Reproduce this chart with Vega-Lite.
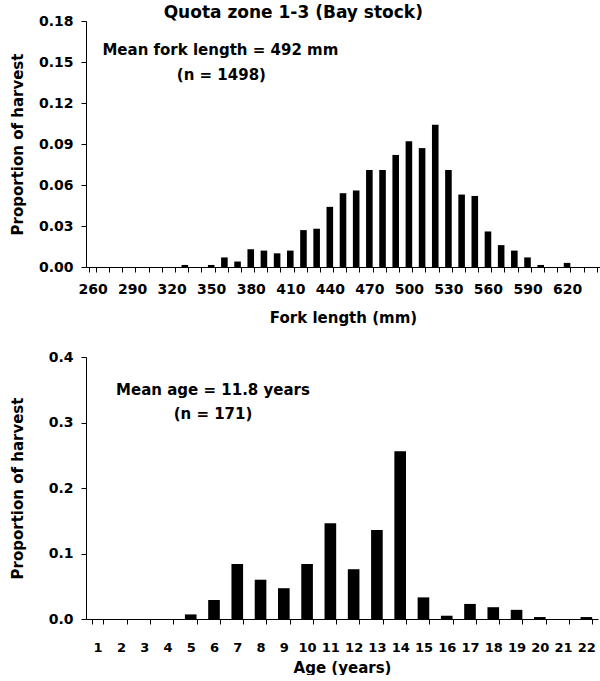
{
  "$schema": "https://vega.github.io/schema/vega-lite/v6.json",
  "background": "white",
  "padding": {"left": 10, "top": 4, "right": 0, "bottom": 0},
  "spacing": 25,
  "config": {
    "view": {"stroke": null},
    "font": "DejaVu Sans",
    "axis": {
      "domainColor": "black", "tickColor": "black", "labelColor": "black", "titleColor": "black",
      "labelFont": "DejaVu Sans", "titleFont": "DejaVu Sans",
      "labelFontWeight": "bold", "labelFontSize": 14, "titleFontSize": 15, "titleFontWeight": "bold",
      "grid": false, "tickSize": 5, "domainWidth": 1, "tickWidth": 1, "labelOverlap": false
    },
    "text": {"font": "DejaVu Sans", "fontWeight": "bold", "fontSize": 15, "color": "black"}
  },
  "vconcat": [
    {
      "width": 514, "height": 246,
      "layer": [
        {
          "data": {"values": [
            {"length": 260, "proportion": 0}, {"length": 270, "proportion": 0}, {"length": 280, "proportion": 0},
            {"length": 290, "proportion": 0}, {"length": 300, "proportion": 0}, {"length": 310, "proportion": 0},
            {"length": 320, "proportion": 0}, {"length": 330, "proportion": 0.0015}, {"length": 340, "proportion": 0},
            {"length": 350, "proportion": 0.0015}, {"length": 360, "proportion": 0.007}, {"length": 370, "proportion": 0.004},
            {"length": 380, "proportion": 0.013}, {"length": 390, "proportion": 0.012}, {"length": 400, "proportion": 0.010},
            {"length": 410, "proportion": 0.012}, {"length": 420, "proportion": 0.027}, {"length": 430, "proportion": 0.028},
            {"length": 440, "proportion": 0.044}, {"length": 450, "proportion": 0.054}, {"length": 460, "proportion": 0.056},
            {"length": 470, "proportion": 0.071}, {"length": 480, "proportion": 0.071}, {"length": 490, "proportion": 0.082},
            {"length": 500, "proportion": 0.092}, {"length": 510, "proportion": 0.087}, {"length": 520, "proportion": 0.104},
            {"length": 530, "proportion": 0.071}, {"length": 540, "proportion": 0.053}, {"length": 550, "proportion": 0.052},
            {"length": 560, "proportion": 0.026}, {"length": 570, "proportion": 0.016}, {"length": 580, "proportion": 0.012},
            {"length": 590, "proportion": 0.007}, {"length": 600, "proportion": 0.0015}, {"length": 610, "proportion": 0},
            {"length": 620, "proportion": 0.003}, {"length": 630, "proportion": 0}, {"length": 640, "proportion": 0}
          ]},
          "mark": {"type": "bar", "color": "black"},
          "encoding": {
            "x": {"field": "length", "type": "ordinal",
              "scale": {"paddingInner": 0.5, "paddingOuter": 0.25},
              "axis": {"title": "Fork length (mm)", "labelAngle": 0, "tickBand": "extent",
                "labelExpr": "datum.value % 30 == 20 ? datum.label : ''", "labelPadding": 10, "titlePadding": 14}},
            "y": {"field": "proportion", "type": "quantitative",
              "scale": {"domain": [0, 0.18]},
              "axis": {"title": "Proportion of harvest", "values": [0, 0.03, 0.06, 0.09, 0.12, 0.15, 0.18], "format": ".2f", "labelPadding": 8, "titlePadding": 13}}
          }
        },
        {
          "data": {"values": [{"label": "Quota zone 1-3 (Bay stock)"}]},
          "mark": {"type": "text", "fontSize": 17, "baseline": "middle", "dy": -8, "dx": 3},
          "encoding": {"x": {"datum": 410, "type": "ordinal"}, "y": {"datum": 0.18, "type": "quantitative"}, "text": {"field": "label"}}
        },
        {
          "data": {"values": [{"label": "Mean fork length = 492 mm"}]},
          "mark": {"type": "text", "baseline": "middle", "dx": -4},
          "encoding": {"x": {"datum": 360, "type": "ordinal"}, "y": {"datum": 0.159, "type": "quantitative"}, "text": {"field": "label"}}
        },
        {
          "data": {"values": [{"label": "(n = 1498)"}]},
          "mark": {"type": "text", "baseline": "middle", "dx": -3},
          "encoding": {"x": {"datum": 360, "type": "ordinal"}, "y": {"datum": 0.1406, "type": "quantitative"}, "text": {"field": "label"}}
        }
      ]
    },
    {
      "width": 512, "height": 262,
      "layer": [
        {
          "data": {"values": [
            {"age": 1, "proportion": 0}, {"age": 2, "proportion": 0}, {"age": 3, "proportion": 0},
            {"age": 4, "proportion": 0}, {"age": 5, "proportion": 0.007}, {"age": 6, "proportion": 0.029},
            {"age": 7, "proportion": 0.084}, {"age": 8, "proportion": 0.060}, {"age": 9, "proportion": 0.047},
            {"age": 10, "proportion": 0.084}, {"age": 11, "proportion": 0.146}, {"age": 12, "proportion": 0.076},
            {"age": 13, "proportion": 0.136}, {"age": 14, "proportion": 0.256}, {"age": 15, "proportion": 0.033},
            {"age": 16, "proportion": 0.005}, {"age": 17, "proportion": 0.023}, {"age": 18, "proportion": 0.018},
            {"age": 19, "proportion": 0.014}, {"age": 20, "proportion": 0.003}, {"age": 21, "proportion": 0},
            {"age": 22, "proportion": 0.003}
          ]},
          "mark": {"type": "bar", "color": "black"},
          "encoding": {
            "x": {"field": "age", "type": "ordinal",
              "scale": {"paddingInner": 0.5, "paddingOuter": 0.25},
              "axis": {"title": "Age (years)", "labelAngle": 0, "tickBand": "extent", "labelFontSize": 13, "labelPadding": 17, "titlePadding": 6}},
            "y": {"field": "proportion", "type": "quantitative",
              "scale": {"domain": [0, 0.4]},
              "axis": {"title": "Proportion of harvest", "values": [0, 0.1, 0.2, 0.3, 0.4], "format": ".1f", "labelPadding": 8, "titlePadding": 23}}
          }
        },
        {
          "data": {"values": [{"label": "Mean age = 11.8 years"}]},
          "mark": {"type": "text", "baseline": "middle", "dx": -1},
          "encoding": {"x": {"datum": 6, "type": "ordinal"}, "y": {"datum": 0.35, "type": "quantitative"}, "text": {"field": "label"}}
        },
        {
          "data": {"values": [{"label": "(n = 171)"}]},
          "mark": {"type": "text", "baseline": "middle", "dx": -1},
          "encoding": {"x": {"datum": 6, "type": "ordinal"}, "y": {"datum": 0.3126, "type": "quantitative"}, "text": {"field": "label"}}
        }
      ]
    }
  ]
}
